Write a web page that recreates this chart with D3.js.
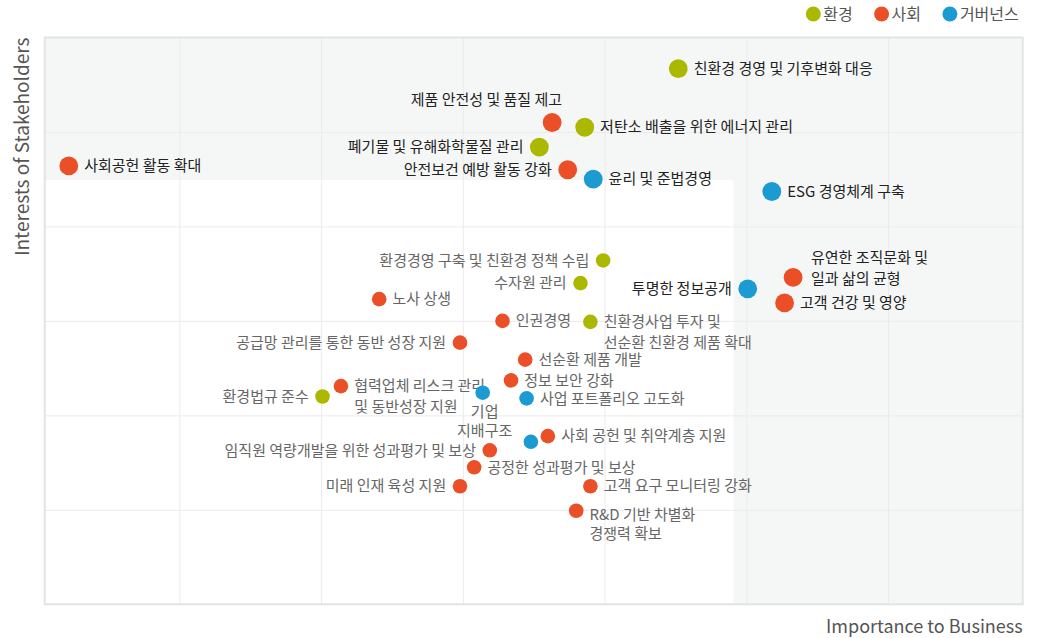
<!DOCTYPE html>
<html>
<head>
<meta charset="utf-8">
<script src="https://cdn.jsdelivr.net/npm/d3@7"></script>
<style>
  body { margin: 0; background: #fff; }
  svg { display: block; font-family: 'Noto Sans CJK KR', 'Noto Sans', sans-serif; }
</style>
</head>
<body>
<svg id="chart"></svg>
<script>
// material issues (label lines split by \n)
const issues = [
  '친환경 경영 및 기후변화 대응', '제품 안전성 및 품질 제고', '저탄소 배출을 위한 에너지 관리',
  '폐기물 및 유해화학물질 관리', '안전보건 예방 활동 강화', '윤리 및 준법경영',
  'ESG 경영체계 구축', '사회공헌 활동 확대', '유연한 조직문화 및\n일과 삶의 균형',
  '투명한 정보공개', '고객 건강 및 영양', '환경경영 구축 및 친환경 정책 수립',
  '수자원 관리', '노사 상생', '인권경영',
  '친환경사업 투자 및\n선순환 친환경 제품 확대', '공급망 관리를 통한 동반 성장 지원', '선순환 제품 개발',
  '정보 보안 강화', '협력업체 리스크 관리\n및 동반성장 지원', '환경법규 준수',
  '기업\n지배구조', '사업 포트폴리오 고도화', '',
  '사회 공헌 및 취약계층 지원', '임직원 역량개발을 위한 성과평가 및 보상', '공정한 성과평가 및 보상',
  '미래 인재 육성 지원', '고객 요구 모니터링 강화', 'R&D 기반 차별화\n경쟁력 확보'
];
const importance = [
  4.52, 3.63, 3.86, 3.54, 3.74, 3.92, 5.18, 0.22, 5.33, 5.01,
  5.27, 3.99, 3.83, 2.41, 3.28, 3.90, 2.98, 3.44, 3.34, 2.14,
  2.01, 3.14, 3.45, 3.48, 3.60, 3.19, 3.08, 2.98, 3.90, 3.80
];
const interest = [
  5.67, 5.10, 5.05, 4.84, 4.60, 4.50, 4.37, 4.64, 3.46, 3.34,
  3.19, 3.64, 3.40, 3.23, 3.00, 2.99, 2.77, 2.59, 2.37, 2.31,
  2.20, 2.24, 2.18, 1.72, 1.78, 1.63, 1.45, 1.25, 1.25, 0.99
];
const area = [
  'env', 'soc', 'env', 'env', 'soc', 'gov', 'gov', 'soc', 'soc', 'gov',
  'soc', 'env', 'env', 'soc', 'soc', 'env', 'soc', 'soc', 'soc', 'soc',
  'env', 'gov', 'gov', 'gov', 'soc', 'soc', 'soc', 'soc', 'soc', 'soc'
];
// core issues are drawn larger with dark labels
const core = [
  1, 1, 1, 1, 1, 1, 1, 1, 1, 1,
  1, 0, 0, 0, 0, 0, 0, 0, 0, 0,
  0, 0, 0, 0, 0, 0, 0, 0, 0, 0
];
const areaKeys = ['env', 'soc', 'gov'];
const areaNames = ['환경', '사회', '거버넌스'];
const xTicks = [1, 2, 3, 4, 5, 6];
const yTicks = [1, 2, 3, 4, 5];
const highImportance = 4.91;
const highInterest = 4.49;

// where each label sits relative to its dot
const labelPlace = [
  'right', 'above', 'right', 'left', 'left', 'right', 'right', 'right', 'rightUp', 'left',
  'right', 'left', 'left', 'right', 'right', 'right', 'left', 'right', 'right', 'right',
  'left', 'below', 'right', 'right', 'right', 'left', 'right', 'left', 'right', 'rightDown'
];

class MaterialityMatrix {

  constructor(_config, data) {
    this.config = {
      parentElement: _config.parentElement,
      containerWidth: 1041,
      containerHeight: 638,
      margin: {top: 37.5, right: 18.3, bottom: 33.7, left: 44.7},
      lineHeight: 21
    }
    this.data = data;
    this.initVis();
  }

  initVis() {
    let vis = this;

    vis.svg = d3.select(vis.config.parentElement)
        .attr('width', vis.config.containerWidth)
        .attr('height', vis.config.containerHeight);

    vis.width = vis.config.containerWidth - vis.config.margin.left - vis.config.margin.right;
    vis.height = vis.config.containerHeight - vis.config.margin.top - vis.config.margin.bottom;

    vis.chartArea = vis.svg.append('g')
        .attr('transform', `translate(${vis.config.margin.left},${vis.config.margin.top})`);

    vis.xScale = d3.scaleLinear()
        .domain([0.05, 6.95])
        .range([0, vis.width]);
    vis.yScale = d3.scaleLinear()
        .domain([0, 6])
        .range([vis.height, 0]);
    vis.colorScale = d3.scaleOrdinal()
        .domain(areaKeys)
        .range(['#abb800', '#ea4f28', '#1b9bd1']);
    vis.rScale = d3.scaleOrdinal()
        .domain([0, 1])
        .range([7.3, 9.4]);

    // shaded high-materiality zone, then the white low zone over it
    vis.chartArea.append('rect')
        .attr('width', vis.width)
        .attr('height', vis.height)
        .attr('fill', '#f5f7f7');
    vis.chartArea.append('rect')
        .attr('x', 0)
        .attr('y', vis.yScale(highInterest))
        .attr('width', vis.xScale(highImportance))
        .attr('height', vis.height - vis.yScale(highInterest))
        .attr('fill', '#fff');

    // grid
    vis.xAxis = d3.axisBottom(vis.xScale)
        .tickValues(xTicks)
        .tickSize(-vis.height)
        .tickFormat('');
    vis.yAxis = d3.axisLeft(vis.yScale)
        .tickValues(yTicks)
        .tickSize(-vis.width)
        .tickFormat('');

    vis.chartArea.append('g')
        .attr('class', 'grid x')
        .attr('transform', `translate(0,${vis.height})`)
        .call(vis.xAxis)
        .call(g => g.select('.domain').remove())
        .selectAll('line').attr('stroke', '#ebebeb');
    vis.chartArea.append('g')
        .attr('class', 'grid y')
        .call(vis.yAxis)
        .call(g => g.select('.domain').remove())
        .selectAll('line').attr('stroke', '#ebebeb');

    vis.chartArea.append('rect')
        .attr('width', vis.width)
        .attr('height', vis.height)
        .attr('fill', 'none')
        .attr('stroke', '#e3e3e3')
        .attr('stroke-width', 2);

    // axis titles
    vis.svg.append('text')
        .attr('text-anchor', 'end')
        .attr('x', vis.config.margin.left + vis.width)
        .attr('y', 633)
        .attr('fill', '#555')
        .attr('font-size', '18px')
        .text('Importance to Business');
    vis.svg.append('text')
        .attr('text-anchor', 'end')
        .attr('transform', `translate(29,${vis.config.margin.top}) rotate(-90)`)
        .attr('fill', '#555')
        .attr('font-size', '19px')
        .text('Interests of Stakeholders');

    // legend
    let legend = vis.svg.append('g')
        .selectAll('.legend')
        .data(areaKeys)
        .join('g')
        .attr('class', 'legend')
        .attr('transform', (d, i) => `translate(${813.3 + i * 68.3},14)`);
    legend.append('circle')
        .attr('r', 7.5)
        .attr('fill', d => vis.colorScale(d));
    legend.append('text')
        .attr('x', 10)
        .attr('dy', '0.35em')
        .attr('font-size', '16px')
        .attr('fill', '#555')
        .text((d, i) => areaNames[i]);

    vis.labels = vis.chartArea.append('g');
    vis.dots = vis.chartArea.append('g');

    vis.renderVis();
  }

  renderVis() {
    let vis = this;
    let lh = vis.config.lineHeight;

    // offsets of the label from the dot centre: [dx, first line dy, anchor, line height]
    let place = {
      right: r => [r + 6, 0, 'start', lh],
      left: r => [-(r + 6.5), 0, 'end', lh],
      above: r => [10, -23, 'end', lh],
      below: r => [2, 19, 'middle', 19],
      rightUp: r => [r + 8.5, -20, 'start', lh],
      rightDown: r => [r + 6, 4, 'start', 19]
    };

    vis.labels.selectAll('text')
        .data(vis.data.filter(d => d.name !== ''))
        .join('text')
        .each(function(d) {
          let r = vis.rScale(d.core);
          let p = place[d.place](r);
          let t = d3.select(this)
              .attr('x', vis.xScale(d.x) + p[0])
              .attr('y', vis.yScale(d.y) + p[1])
              .attr('text-anchor', p[2])
              .attr('font-size', '15px')
              .attr('fill', d.core ? '#222' : '#666');
          t.selectAll('tspan')
              .data(d.name.split('\n'))
              .join('tspan')
              .attr('x', vis.xScale(d.x) + p[0])
              .attr('dy', (s, i) => i === 0 ? '0.35em' : p[3])
              .text(s => s);
        });

    vis.dots.selectAll('circle')
        .data(vis.data)
        .join('circle')
        .attr('cx', d => vis.xScale(d.x))
        .attr('cy', d => vis.yScale(d.y))
        .attr('r', d => vis.rScale(d.core))
        .attr('fill', d => vis.colorScale(d.area));
  }
}

const data = issues.map((name, i) => ({
  name: name,
  x: importance[i],
  y: interest[i],
  area: area[i],
  core: core[i],
  place: labelPlace[i]
}));

new MaterialityMatrix({parentElement: '#chart'}, data);
</script>
</body>
</html>
